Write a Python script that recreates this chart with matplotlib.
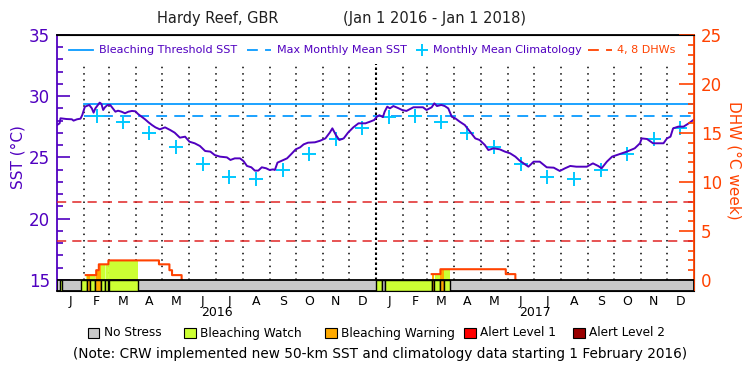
import numpy as np
import matplotlib
matplotlib.use('Agg')
import matplotlib.pyplot as plt
from matplotlib.patches import Rectangle
from matplotlib.lines import Line2D
import matplotlib.transforms as mtransforms

# days since 2016-01-01
sst_day = [0, 3, 4, 11, 17, 19, 23, 27, 29, 32, 34, 37, 40, 42, 44, 47, 49, 51, 53, 55,
           58, 61, 64, 67, 70, 74, 78, 82, 86, 90, 93, 97, 101, 105, 109, 113, 118, 124,
           130, 135, 141, 147, 152, 158, 164, 170, 176, 181, 187, 195, 199, 204, 210, 214,
           218, 223, 227, 231, 235, 240, 244, 248, 250, 253, 258, 264, 269, 274, 279, 283,
           288, 296, 302, 308, 313, 316, 320, 324, 329, 334, 340, 346, 354, 359, 364, 367,
           370, 374, 376, 379, 382, 386, 391, 396, 401, 409, 420, 424, 430, 433, 436, 441,
           445, 449, 453, 457, 462, 468, 474, 480, 485, 491, 495, 501, 508, 514, 520, 526,
           531, 541, 547, 554, 562, 570, 577, 583, 589, 596, 608, 615, 621, 625, 631, 637,
           646, 654, 663, 669, 671, 677, 684, 696, 700, 704, 707, 713, 719, 725, 731]
sst_val = [27.65, 27.79, 28.20, 28.14, 28.12, 28.01, 28.12, 28.17, 28.47, 29.15, 29.20,
           29.29, 29.01, 28.66, 29.01, 29.29, 29.48, 29.37, 28.88, 29.10, 29.29, 29.29,
           29.01, 28.74, 28.82, 28.74, 28.61, 28.74, 28.80, 28.77, 28.55, 28.33, 28.12,
           27.87, 27.65, 27.46, 27.30, 27.46, 27.24, 27.03, 26.62, 26.70, 26.29, 26.16,
           25.94, 25.53, 25.48, 25.20, 25.07, 25.01, 24.80, 24.93, 24.93, 24.71, 24.31,
           24.20, 23.93, 23.93, 24.20, 24.12, 23.98, 24.03, 23.98, 24.58, 24.74, 24.93,
           25.29, 25.67, 25.83, 26.07, 26.21, 26.24, 26.37, 26.56, 27.03, 27.38, 26.84,
           26.43, 26.56, 27.03, 27.46, 27.79, 27.79, 27.92, 28.06, 28.33, 28.45, 28.30,
           28.74, 29.15, 29.01, 29.20, 29.05, 28.88, 28.80, 29.10, 29.10, 28.88, 29.10,
           29.42, 29.20, 29.29, 29.20, 29.01, 28.33, 28.20, 27.93, 27.65, 27.11, 26.56,
           26.43, 26.02, 25.61, 25.75, 25.67, 25.48, 25.34, 25.07, 24.74, 24.25, 24.66,
           24.66, 24.20, 24.17, 23.90, 24.12, 24.31, 24.25, 24.25, 24.52, 24.31, 24.12,
           24.66, 25.07, 25.29, 25.48, 25.75, 26.16, 26.56, 26.51, 26.16, 26.16, 26.56,
           26.70, 27.38, 27.52, 27.52, 27.79, 28.10]

# monthly mean climatology, Jan..Dec
clim_val = [28.30, 28.36, 27.87, 27.02, 25.83, 24.47, 23.43, 23.27, 23.96, 25.26, 26.49, 27.43]
mmm = 28.4
threshold = 29.4
clim_start = 31  # new climatology from 1 Feb 2016

# degree heating weeks (step, post)
dhw_day = [0, 33, 45, 48, 59, 117, 129, 132, 143, 430, 440, 515, 526]
dhw_val = [0, 0.5, 1.0, 1.6, 2.0, 1.6, 1.0, 0.5, 0, 0.6, 1.1, 0.6, 0]

# stress level periods: start day, end day, level (0 none, 1 watch, 2 warning)
stress_start = [3, 27, 34, 37.5, 43.5, 50, 55, 59.5, 366, 373.5, 376.5, 430, 433, 440, 444]
stress_end = [6, 34, 37.5, 43.5, 50, 55, 59, 93, 373.5, 376.5, 430, 433, 440, 444, 451]
stress_level = [1, 1, 2, 1, 2, 1, 1, 1, 1, 0, 1, 2, 1, 2, 1]

month_letters = list('JFMAMJJASOND') * 2
years = ['2016', '2017']
stress_names = ['No Stress', 'Bleaching Watch', 'Bleaching Warning', 'Alert Level 1', 'Alert Level 2']
stress_colors = ['#c8c8c8', '#ccff33', '#ffaa00', '#ff0000', '#990000']

PURPLE = '#5000c0'
ORANGE = '#ff4200'
BLUE = '#0a9bff'
CYAN = '#00c8ff'
RED = '#e02424'

W, H = 750, 375


def fx(x):
    return x / W


def fy(y):
    return 1 - y / H


def dhw_at(x):
    idx = np.searchsorted(dhw_day, x, side='right') - 1
    return np.asarray(dhw_val)[np.clip(idx, 0, None)]


def main():
    plt.rcParams['font.family'] = ['DejaVu Sans']
    fig = plt.figure(figsize=(7.5, 3.75), dpi=100)
    ax = fig.add_axes([fx(57), fy(290.5), fx(694 - 57), (290.5 - 35) / H])
    ax.set_xlim(0, 731)
    ax.set_ylim(15 - 10.5 / 12.25, 35)
    ax2 = ax.twinx()
    ax2.set_ylim(-10.5 / 9.8, 25)

    months = np.arange('2016-01', '2018-02', dtype='datetime64[M]')
    mstart = (months.astype('datetime64[D]') - np.datetime64('2016-01-01')).astype(int)
    mmid = (mstart[:-1] + mstart[1:]) / 2

    # month dividers
    for d in mstart[1:-1]:
        if d == 366:
            ax.vlines(d, 15, 32.6, colors='k', lw=1.5, linestyles=(0, (1.2, 1.2)), zorder=1)
        else:
            ax.vlines(d, 15, 32.6, colors='k', lw=1.1, linestyles=(0, (1, 3.2)), zorder=1)

    ax.axhline(threshold, xmin=clim_start / 731, color=BLUE, lw=1.3, zorder=2)
    ax.axhline(mmm, xmin=clim_start / 731, color=BLUE, lw=1.3, ls=(0, (6, 4)), zorder=2)
    for v in (4, 8):
        ax2.axhline(v, color=RED, lw=1.1, ls=(0, (6, 4)), zorder=2)

    cx = mmid[1:]
    cy = [clim_val[i % 12] for i in range(1, 24)]
    ax.plot(cx, cy, ls='none', marker='+', ms=10, mew=1.4, color=CYAN, zorder=3)
    ax.plot(sst_day, sst_val, color=PURPLE, lw=1.4, zorder=4)

    # DHW fill by stress colour and line
    for s, e, lv in zip(stress_start, stress_end, stress_level):
        if lv == 0:
            continue
        xs = np.linspace(s, e, 300)
        ax2.fill_between(xs, 0, dhw_at(xs), color=stress_colors[lv], lw=0, zorder=2)
    xs = np.arange(0, 731.5, 0.25)
    ys = dhw_at(xs)
    ys = np.ma.masked_where((ys == 0) & (dhw_at(xs - 0.5) == 0), ys)
    ax2.plot(xs, ys, color=ORANGE, lw=1.5, drawstyle='steps-post', zorder=3)

    # stress bar
    lo = -10.5 / 9.8
    ax2.add_patch(Rectangle((0, lo), 731, -lo, facecolor=stress_colors[0],
                            edgecolor='k', lw=1.3, zorder=5))
    for s, e, lv in zip(stress_start, stress_end, stress_level):
        ax2.add_patch(Rectangle((s, lo), e - s, -lo, facecolor=stress_colors[lv],
                                edgecolor='k', lw=1.0, zorder=6))

    # axes styling
    for side in ('top', 'bottom'):
        ax.spines[side].set_color('k')
        ax.spines[side].set_linewidth(1.3)
    ax.spines['left'].set_color(PURPLE)
    ax.spines['left'].set_linewidth(1.3)
    ax2.spines['right'].set_color(ORANGE)
    ax2.spines['right'].set_linewidth(1.3)
    ax2.spines['left'].set_visible(False)

    ax.set_yticks(range(15, 36, 5))
    ax.set_yticks(range(16, 35), minor=True)
    ax.tick_params(axis='y', which='major', direction='in', length=9.5, width=1.2,
                   color=PURPLE, labelcolor=PURPLE, labelsize=12, pad=5)
    ax.tick_params(axis='y', which='minor', direction='in', length=4.5, width=1.2, color=PURPLE)
    ax2.set_yticks(range(0, 26, 5))
    ax2.set_yticks([v for v in range(1, 25) if v % 5], minor=True)
    ax2.tick_params(axis='y', which='major', direction='in', length=11, width=1.2,
                    color=ORANGE, labelcolor=ORANGE, labelsize=12, pad=5)
    ax2.tick_params(axis='y', which='minor', direction='in', length=4.5, width=1.2, color=ORANGE)

    ax.set_xticks(mmid, labels=month_letters)
    ax.tick_params(axis='x', length=0, pad=3, labelsize=9)

    tr = mtransforms.blended_transform_factory(ax.transData, fig.transFigure)
    for i, yr in enumerate(years):
        ax.text((mstart[12 * i] + mstart[12 * i + 12]) / 2, fy(313), yr, transform=tr,
                ha='center', va='center', fontsize=9)

    fig.text(fx(18), fy(157), 'SST (°C)', rotation=90, color=PURPLE, fontsize=11,
             ha='center', va='center')
    fig.text(fx(734), fy(160), 'DHW (°C week)', rotation=270, color=ORANGE, fontsize=11,
             ha='center', va='center')

    # title
    fig.text(fx(157), fy(19), 'Hardy Reef, GBR', fontsize=10.5, color='#202020', va='center')
    fig.text(fx(343), fy(19), '(Jan 1 2016 - Jan 1 2018)', fontsize=10.5, color='#202020',
             va='center')

    # top legend
    ly = fy(50)
    fs = 8
    fig.add_artist(Line2D([fx(69), fx(93)], [ly, ly], color=BLUE, lw=1.3))
    fig.text(fx(99), ly, 'Bleaching Threshold SST', color=PURPLE, fontsize=fs, va='center')
    fig.add_artist(Line2D([fx(247), fx(271)], [ly, ly], color=BLUE, lw=1.3, ls=(0, (6, 4))))
    fig.text(fx(277), ly, 'Max Monthly Mean SST', color=PURPLE, fontsize=fs, va='center')
    fig.add_artist(Line2D([fx(421.7)], [ly], color=CYAN, marker='+', ms=9, mew=1.4))
    fig.text(fx(433), ly, 'Monthly Mean Climatology', color=PURPLE, fontsize=fs, va='center')
    fig.add_artist(Line2D([fx(588), fx(612)], [ly, ly], color=ORANGE, lw=1.3, ls=(0, (6, 4))))
    fig.text(fx(617), ly, '4, 8 DHWs', color=ORANGE, fontsize=fs, va='center')

    # stress legend
    sq_x = [87.5, 184, 325, 464, 573]
    by = 333
    for x0, name, col in zip(sq_x, stress_names, stress_colors):
        fig.add_artist(Rectangle((fx(x0), fy(by + 5)), fx(12), 10 / H, facecolor=col,
                                 edgecolor='k', lw=0.8, transform=fig.transFigure))
        fig.text(fx(x0 + 16), fy(by), name, fontsize=8.7, va='center')

    fig.text(fx(380), fy(354),
             '(Note: CRW implemented new 50-km SST and climatology data starting 1 February 2016)',
             fontsize=9.8, ha='center', va='center')

    fig.savefig('out.png', dpi=100)


if __name__ == "__main__":
    main()
